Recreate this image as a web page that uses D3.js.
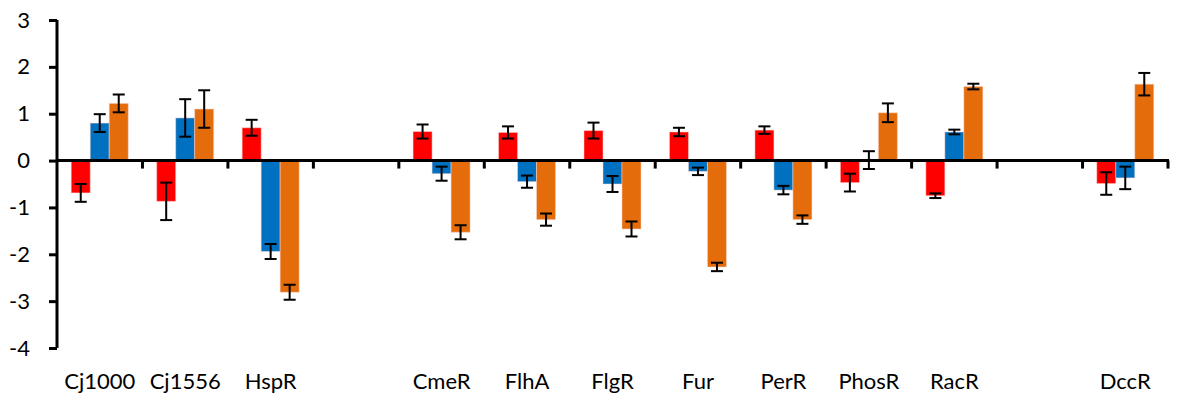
<!DOCTYPE html>
<html>
<head>
<meta charset="utf-8">
<script src="https://cdn.jsdelivr.net/npm/d3@7"></script>
<style>
  body { margin: 0; background: #fff; }
  text { font-family: Lato, "Open Sans", sans-serif; }
</style>
</head>
<body>
<svg id="chart" width="1179" height="396"></svg>
<script>
// categories (blank slots keep the gaps of the original)
const genes = ["Cj1000", "Cj1556", "HspR", "", "CmeR", "FlhA", "FlgR", "Fur", "PerR", "PhosR", "RacR", "", "DccR"];
const series = ["red", "blue", "orange"];

// values per series, null where the slot is empty
const redVals    = [-0.69, -0.87, 0.70, null, 0.62, 0.60, 0.64, 0.61, 0.65, -0.47, -0.75, null, -0.49];
const blueVals   = [0.80, 0.91, -1.94, null, -0.28, -0.45, -0.50, -0.23, -0.63, 0.01, 0.61, null, -0.37];
const orangeVals = [1.22, 1.10, -2.81, null, -1.53, -1.26, -1.46, -2.27, -1.26, 1.02, 1.58, null, 1.63];

// error (+/-)
const redErr    = [0.19, 0.40, 0.17, null, 0.15, 0.13, 0.17, 0.09, 0.08, 0.19, 0.05, null, 0.24];
const blueErr   = [0.19, 0.40, 0.16, null, 0.15, 0.13, 0.17, 0.08, 0.09, 0.19, 0.05, null, 0.24];
const orangeErr = [0.19, 0.40, 0.16, null, 0.15, 0.13, 0.16, 0.09, 0.09, 0.20, 0.06, null, 0.24];

const yTicks = [3, 2, 1, 0, -1, -2, -3, -4];

const colors = { red: "#ff0000", blue: "#0070c0", orange: "#e46c0a" };
const vals = { red: redVals, blue: blueVals, orange: orangeVals };
const errs = { red: redErr, blue: blueErr, orange: orangeErr };

const svg = d3.select("#chart");
const margin = { left: 57, right: 11, top: 20, bottom: 48 };
const W = 1179, H = 396;

const x = d3.scaleBand()
  .domain(d3.range(genes.length))
  .range([margin.left, W - margin.right])
  .paddingInner(0).paddingOuter(0);

const y = d3.scaleLinear().domain([-4, 3]).range([H - margin.bottom, margin.top]);

const bw = 19;
const xs = d3.scaleBand().domain(series).range([-bw * 1.5, bw * 1.5]);

// bars
series.forEach(function(s){
  const data = vals[s].map(function(v, i){ return { i: i, v: v, e: errs[s][i] }; })
                      .filter(function(d){ return d.v !== null; });
  const g = svg.append("g");
  g.selectAll("rect").data(data).enter().append("rect")
    .attr("x", function(d){ return x(d.i) + x.bandwidth() / 2 + xs(s); })
    .attr("width", xs.bandwidth())
    .attr("y", function(d){ return y(Math.max(0, d.v)); })
    .attr("height", function(d){ return Math.abs(y(d.v) - y(0)); })
    .attr("fill", colors[s])
    .attr("stroke", "#fbd6d0")
    .attr("stroke-opacity", 0.5)
    .attr("stroke-width", 1);

  // error bars
  const eb = g.selectAll("g.err").data(data).enter().append("g").attr("class", "err")
    .attr("transform", function(d){ return "translate(" + (x(d.i) + x.bandwidth() / 2 + xs(s) + xs.bandwidth() / 2) + ",0)"; });
  eb.append("line")
    .attr("y1", function(d){ return y(d.v + d.e); })
    .attr("y2", function(d){ return y(d.v - d.e); })
    .attr("stroke", "#000").attr("stroke-width", 2);
  eb.append("line")
    .attr("x1", -6).attr("x2", 6)
    .attr("y1", function(d){ return y(d.v + d.e); })
    .attr("y2", function(d){ return y(d.v + d.e); })
    .attr("stroke", "#000").attr("stroke-width", 2);
  eb.append("line")
    .attr("x1", -6).attr("x2", 6)
    .attr("y1", function(d){ return y(d.v - d.e); })
    .attr("y2", function(d){ return y(d.v - d.e); })
    .attr("stroke", "#000").attr("stroke-width", 2);
});

// y axis
const yAxis = d3.axisLeft(y).tickValues(yTicks).tickSize(8).tickSizeOuter(0).tickPadding(19)
  .tickFormat(function(d){ return String(d); });
const yg = svg.append("g").attr("transform", "translate(" + margin.left + ",0)").call(yAxis);
yg.select(".domain").attr("stroke-width", 3).attr("d", "M0," + y(3) + "V" + y(-4));
yg.selectAll(".tick line").attr("stroke-width", 3);
yg.selectAll(".tick text").attr("font-size", 22).attr("fill", "#000")
  .style("font-family", "Lato, 'Open Sans', sans-serif");

// x axis along zero line, ticks at category boundaries
const xg = svg.append("g");
xg.append("line")
  .attr("x1", margin.left).attr("x2", W - margin.right + 1)
  .attr("y1", y(0)).attr("y2", y(0))
  .attr("stroke", "#000").attr("stroke-width", 3);
xg.selectAll("line.tk").data(d3.range(1, genes.length + 1)).enter().append("line")
  .attr("class", "tk")
  .attr("x1", function(i){ return i < genes.length ? x(i) : x(i - 1) + x.bandwidth(); })
  .attr("x2", function(i){ return i < genes.length ? x(i) : x(i - 1) + x.bandwidth(); })
  .attr("y1", y(0)).attr("y2", y(0) + 8)
  .attr("stroke", "#000").attr("stroke-width", 3);

// category labels at the bottom
svg.append("g").selectAll("text").data(genes).enter().append("text")
  .attr("x", function(d, i){ return x(i) + x.bandwidth() / 2; })
  .attr("y", 389)
  .attr("text-anchor", "middle")
  .attr("font-size", 22)
  .text(function(d){ return d; });
</script>
</body>
</html>
